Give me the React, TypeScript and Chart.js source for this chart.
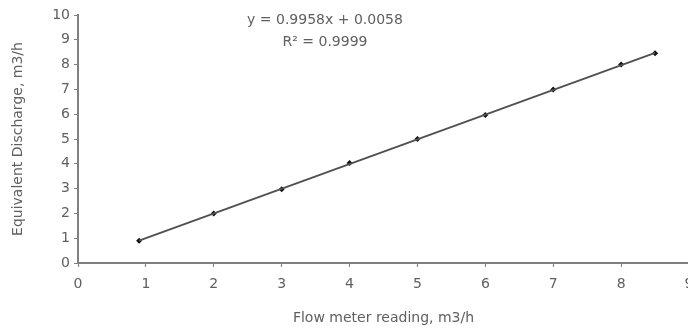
import React, { useEffect, useRef } from "react";
import { Chart, registerables } from "chart.js";

Chart.register(...registerables);

const flowReadings = [0.9, 2, 3, 4, 5, 6, 7, 8, 8.5];
const dischargeValues = [0.9, 2, 2.97, 4.03, 5, 5.97, 7, 8, 8.46];
const trendX = [0.9, 8.5];
const trendY = [0.902, 8.47];
const equationLines = ["y = 0.9958x + 0.0058", "R² = 0.9999"];
const xTitle = "Flow meter reading, m3/h";
const yTitle = "Equivalent Discharge, m3/h";

const FONT = "'DejaVu Sans', sans-serif";
const TEXT = "#606060";
const AXIS = "#808080";

export default function App() {
  const ref = useRef<HTMLCanvasElement>(null);
  useEffect(() => {
    document.body.style.margin = "0";
    const annot = {
      id: "annot",
      afterDraw(chart: any) {
        const ctx = chart.ctx;
        ctx.save();
        ctx.fillStyle = TEXT;
        ctx.font = `14px ${FONT}`;
        ctx.textAlign = "center";
        ctx.textBaseline = "middle";
        ctx.fillText(equationLines[0], 325, 20);
        ctx.fillText(equationLines[1], 325, 42);
        ctx.restore();
      },
    };
    const chart = new Chart(ref.current!, {
      type: "scatter",
      data: {
        datasets: [
          {
            label: "trend",
            data: trendX.map((x, i) => ({ x, y: trendY[i] })),
            showLine: true,
            borderColor: "#505050",
            borderWidth: 1.8,
            pointRadius: 0,
          },
          {
            label: "data",
            data: flowReadings.map((x, i) => ({ x, y: dischargeValues[i] })),
            showLine: false,
            pointStyle: "rectRot",
            pointRadius: 3,
            backgroundColor: "#111111",
            borderColor: "#111111",
            borderWidth: 0,
          },
        ],
      },
      options: {
        animation: false,
        responsive: false,
        layout: { padding: { top: 15, right: 11, left: 0, bottom: 0 } },
        plugins: { legend: { display: false }, tooltip: { enabled: false } },
        scales: {
          x: {
            type: "linear",
            min: 0,
            max: 9,
            ticks: { stepSize: 1, color: TEXT, font: { family: FONT, size: 14 }, padding: 9 },
            grid: { drawOnChartArea: false, tickLength: 4, color: AXIS, lineWidth: 1 },
            border: { color: AXIS, width: 2 },
            title: {
              display: true,
              text: xTitle,
              color: TEXT,
              font: { family: FONT, size: 14 },
              padding: { top: 14, bottom: 4 },
            },
            afterFit(s: any) {
              s.height = 68;
              s.paddingLeft = 0;
              s.paddingRight = 0;
            },
          },
          y: {
            type: "linear",
            min: 0,
            max: 10,
            ticks: { stepSize: 1, color: TEXT, font: { family: FONT, size: 14 }, padding: 4 },
            grid: { drawOnChartArea: false, tickLength: 4, color: AXIS, lineWidth: 1 },
            border: { color: AXIS, width: 2 },
            title: {
              display: true,
              text: yTitle,
              color: TEXT,
              font: { family: FONT, size: 14 },
              padding: { top: 10, bottom: 0 },
            },
            afterFit(s: any) {
              s.width = 78;
              s.paddingTop = 0;
              s.paddingBottom = 0;
            },
          },
        },
      },
      plugins: [annot],
    });
    return () => chart.destroy();
  }, []);
  return (
    <div style={{ width: 688, height: 331, overflow: "hidden", background: "#fff" }}>
      <canvas ref={ref} width={700} height={331} style={{ display: "block" }} />
    </div>
  );
}
